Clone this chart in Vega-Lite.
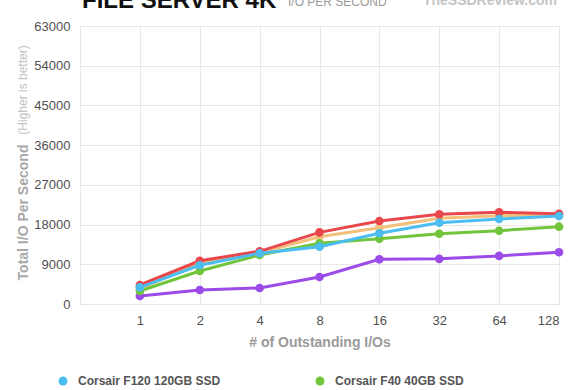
{
  "$schema": "https://vega.github.io/schema/vega-lite/v6.json",
  "width": 479,
  "height": 278,
  "autosize": "none",
  "padding": {"left": 80, "top": 26, "right": 21, "bottom": 86},
  "background": "white",
  "config": {
    "font": "Liberation Sans",
    "view": {"stroke": "#c4c4c4", "strokeWidth": 1},
    "axis": {"domain": false, "ticks": false, "gridColor": "#e8e8e8", "gridWidth": 1, "labelPadding": 10, "labelFontSize": 13, "labelColor": "#505050"}
  },
  "datasets": {
    "iops": [
      {"drive": "Kingston V+ 64GB SSD", "ios": 1, "iops": 1810},
      {"drive": "Kingston V+ 64GB SSD", "ios": 2, "iops": 3170},
      {"drive": "Kingston V+ 64GB SSD", "ios": 4, "iops": 3630},
      {"drive": "Kingston V+ 64GB SSD", "ios": 8, "iops": 6120},
      {"drive": "Kingston V+ 64GB SSD", "ios": 16, "iops": 10130},
      {"drive": "Kingston V+ 64GB SSD", "ios": 32, "iops": 10240},
      {"drive": "Kingston V+ 64GB SSD", "ios": 64, "iops": 10900},
      {"drive": "Kingston V+ 64GB SSD", "ios": 128, "iops": 11720},
      {"drive": "OCZ Agility 2 60GB SSD", "ios": 1, "iops": 3500},
      {"drive": "OCZ Agility 2 60GB SSD", "ios": 2, "iops": 9220},
      {"drive": "OCZ Agility 2 60GB SSD", "ios": 4, "iops": 11600},
      {"drive": "OCZ Agility 2 60GB SSD", "ios": 8, "iops": 15250},
      {"drive": "OCZ Agility 2 60GB SSD", "ios": 16, "iops": 17290},
      {"drive": "OCZ Agility 2 60GB SSD", "ios": 32, "iops": 19420},
      {"drive": "OCZ Agility 2 60GB SSD", "ios": 64, "iops": 20010},
      {"drive": "OCZ Agility 2 60GB SSD", "ios": 128, "iops": 20150},
      {"drive": "Corsair F40 40GB SSD", "ios": 1, "iops": 2950},
      {"drive": "Corsair F40 40GB SSD", "ios": 2, "iops": 7480},
      {"drive": "Corsair F40 40GB SSD", "ios": 4, "iops": 11100},
      {"drive": "Corsair F40 40GB SSD", "ios": 8, "iops": 13750},
      {"drive": "Corsair F40 40GB SSD", "ios": 16, "iops": 14800},
      {"drive": "Corsair F40 40GB SSD", "ios": 32, "iops": 15930},
      {"drive": "Corsair F40 40GB SSD", "ios": 64, "iops": 16610},
      {"drive": "Corsair F40 40GB SSD", "ios": 128, "iops": 17520},
      {"drive": "OCZ Vertex 2 60GB SSD", "ios": 1, "iops": 4305},
      {"drive": "OCZ Vertex 2 60GB SSD", "ios": 2, "iops": 9800},
      {"drive": "OCZ Vertex 2 60GB SSD", "ios": 4, "iops": 11940},
      {"drive": "OCZ Vertex 2 60GB SSD", "ios": 8, "iops": 16240},
      {"drive": "OCZ Vertex 2 60GB SSD", "ios": 16, "iops": 18800},
      {"drive": "OCZ Vertex 2 60GB SSD", "ios": 32, "iops": 20320},
      {"drive": "OCZ Vertex 2 60GB SSD", "ios": 64, "iops": 20780},
      {"drive": "OCZ Vertex 2 60GB SSD", "ios": 128, "iops": 20460},
      {"drive": "Corsair F120 120GB SSD", "ios": 1, "iops": 3780},
      {"drive": "Corsair F120 120GB SSD", "ios": 2, "iops": 8770},
      {"drive": "Corsair F120 120GB SSD", "ios": 4, "iops": 11490},
      {"drive": "Corsair F120 120GB SSD", "ios": 8, "iops": 12990},
      {"drive": "Corsair F120 120GB SSD", "ios": 16, "iops": 16020},
      {"drive": "Corsair F120 120GB SSD", "ios": 32, "iops": 18420},
      {"drive": "Corsair F120 120GB SSD", "ios": 64, "iops": 19260},
      {"drive": "Corsair F120 120GB SSD", "ios": 128, "iops": 19940}
    ],
    "notes": [
      {"kind": "title", "text": "FILE SERVER 4K", "ios": 0.5, "iops": 63000},
      {"kind": "sub", "text": "I/O PER SECOND", "ios": 0.5, "iops": 63000},
      {"kind": "logo", "text": "TheSSDReview.com", "ios": 128, "iops": 63000},
      {"kind": "yhint", "text": "(Higher is better)", "ios": 0.5, "iops": 48500}
    ]
  },
  "data": {"name": "iops"},
  "encoding": {
    "x": {
      "field": "ios", "type": "quantitative",
      "scale": {"type": "log", "base": 2, "domain": [0.5, 128], "nice": false},
      "axis": {
        "values": [0.5, 1, 2, 4, 8, 16, 32, 64, 128],
        "format": "d",
        "labelExpr": "datum.value < 1 ? '' : datum.label",
        "title": "# of Outstanding I/Os",
        "titleFontSize": 14, "titleFontWeight": "bold", "titleColor": "#9a9a9a", "titlePadding": 8
      }
    },
    "y": {
      "field": "iops", "type": "quantitative",
      "scale": {"domain": [0, 63000], "nice": false},
      "axis": {
        "values": [0, 9000, 18000, 27000, 36000, 45000, 54000, 63000],
        "format": "d",
        "title": "Total I/O Per Second",
        "titleFontSize": 14, "titleFontWeight": "bold", "titleColor": "#a8a8a8",
        "titleX": -57, "titleY": 186, "titleBaseline": "middle", "titleAlign": "center", "titleAngle": 270
      }
    },
    "color": {
      "field": "drive", "type": "nominal",
      "scale": {
        "domain": ["Corsair F120 120GB SSD", "Corsair F40 40GB SSD", "OCZ Vertex 2 60GB SSD", "OCZ Agility 2 60GB SSD", "Kingston V+ 64GB SSD"],
        "range": ["#4cbdf1", "#72c43b", "#e8484b", "#f3c07c", "#9b4ce8"]
      },
      "legend": {
        "orient": "none", "legendX": -23, "legendY": 349,
        "columns": 2, "direction": "horizontal", "title": null,
        "symbolType": "circle", "symbolSize": 80, "symbolStrokeWidth": 0,
        "labelFontSize": 12, "labelFontWeight": "bold", "labelColor": "#555555",
        "labelOffset": 9, "columnPadding": 93, "rowPadding": 8
      }
    }
  },
  "layer": [
    {"mark": {"type": "line", "strokeWidth": 3}},
    {"mark": {"type": "point", "filled": true, "size": 75, "opacity": 1}},
    {
      "data": {"name": "notes"},
      "transform": [{"filter": "datum.kind == 'title'"}],
      "mark": {"type": "text", "align": "left", "baseline": "alphabetic", "dx": 2, "dy": -18, "fontSize": 24, "fontWeight": "bold"},
      "encoding": {"text": {"field": "text"}, "color": {"value": "#111111"}}
    },
    {
      "data": {"name": "notes"},
      "transform": [{"filter": "datum.kind == 'sub'"}],
      "mark": {"type": "text", "align": "left", "baseline": "alphabetic", "dx": 208, "dy": -20, "fontSize": 12},
      "encoding": {"text": {"field": "text"}, "color": {"value": "#9a9a9a"}}
    },
    {
      "data": {"name": "notes"},
      "transform": [{"filter": "datum.kind == 'logo'"}],
      "mark": {"type": "text", "align": "right", "baseline": "alphabetic", "dx": -2, "dy": -21, "fontSize": 14, "fontWeight": "bold"},
      "encoding": {"text": {"field": "text"}, "color": {"value": "#c4c4c4"}}
    },
    {
      "data": {"name": "notes"},
      "transform": [{"filter": "datum.kind == 'yhint'"}],
      "mark": {"type": "text", "align": "center", "baseline": "middle", "angle": 270, "dy": -57, "fontSize": 12},
      "encoding": {"text": {"field": "text"}, "color": {"value": "#c2c2c2"}}
    }
  ]
}
